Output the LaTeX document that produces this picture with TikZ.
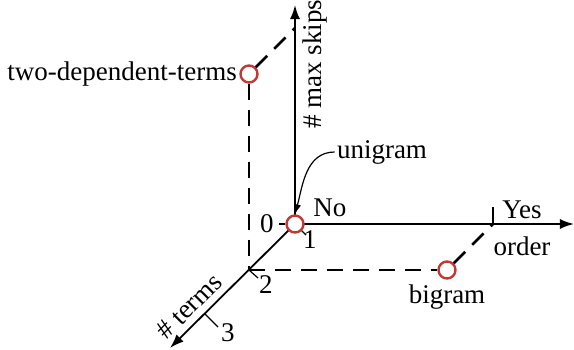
\documentclass[tikz,border=0pt]{standalone}
\usepackage{fontspec}
\setmainfont{Liberation Serif}
\usetikzlibrary{arrows.meta,positioning,calc}
\definecolor{pointred}{RGB}{192,57,52}

\begin{document}
\begin{tikzpicture}[
  x=0.5pt, y=0.5pt,
  every node/.style={font=\rmfamily\fontsize{13.5}{16}\selectfont, inner sep=1pt},
  axis/.style={line width=0.9pt, -{Latex[length=7pt,width=5pt]}},
  tick/.style={line width=0.6pt},
  guide/.style={line width=1.3pt, dash pattern=on 8pt off 5pt},
  point/.style={circle, draw=pointred, line width=1.2pt, fill=white, minimum size=8.5pt, inner sep=0pt}
]
  \useasboundingbox (-295,-125) rectangle (279,224);
  \coordinate (o) at (0,0);
  \coordinate (t2) at (-46,-46);
  \coordinate (t3) at (-90,-90);
  \coordinate (yes) at (198,0);
  \coordinate (vtop) at (0,196);
  \coordinate (skipend) at (0,219);
  \coordinate (orderend) at (279,0);
  \coordinate (termsend) at (-125,-124);

  % axes and ticks
  \draw[axis] (o) -- (skipend);
  \draw[axis] (o) -- (orderend);
  \draw[axis] (o) -- (termsend);
  \draw[tick] (o) ++(-16,0) -- ++(6,0);
  \draw[tick] (o) -- ++(11,-11);
  \draw[tick] (t2) -- ++(9,-8);
  \draw[tick] (t3) -- ++(13,-13);
  \draw[tick] (yes) -- ++(0,17);

  % points
  \node[point] (uni) at (o) {};
  \node[point] (twodep) at ($(t2)+(vtop)$) {};
  \node[point] (bi) at ($(t2)+(yes)$) {};
  \draw[guide] (twodep) -- (vtop);
  \draw[guide] (twodep) -- (t2);
  \draw[guide] (t2) -- (bi);
  \draw[guide] (bi) -- (yes);

  % labels
  \node (zero) at (-28,0) {0};
  \node (one) at (15,-16) {1};
  \node (two) at (-29,-61) {2};
  \node (three) at (-67,-109) {3};
  \node (nolbl) at (35,16) {No};
  \node (yeslbl) at (227,14) {Yes};
  \node (orderlbl) at (227,-22) {order};
  \node[rotate=90] (skiplbl) at (20,160) {\# max skips};
  \node[rotate=45] (termslbl) at (-106,-82) {\# terms};
  \node[left=0pt of twodep] (twodeplbl) {two-dependent-terms};
  \node[below=1.5pt of bi] (bilbl) {bigram};
  \node (unilbl) at (87,72) {unigram};
  \draw[line width=0.6pt, -{Latex[length=5pt,width=3.5pt]}] (unilbl.west) to[out=180, in=75] (uni.north);
\end{tikzpicture}
\end{document}
